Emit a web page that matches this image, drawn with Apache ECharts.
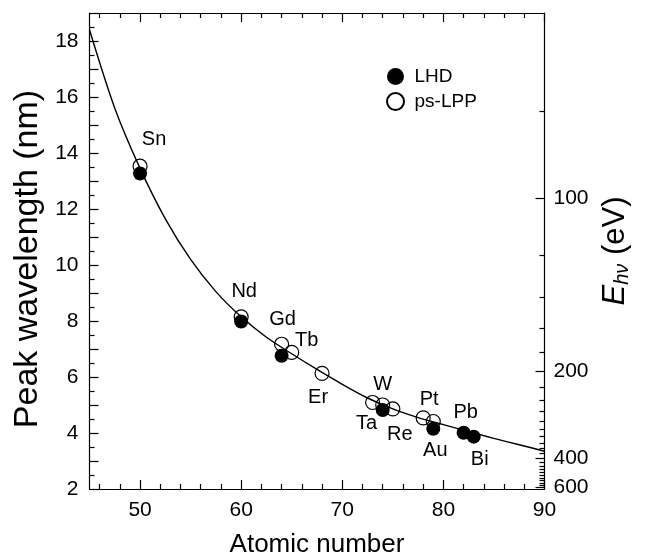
<!DOCTYPE html>
<html>
<head>
<meta charset="utf-8">
<script src="https://cdn.jsdelivr.net/npm/echarts@6/dist/echarts.min.js"></script>
<style>
  html, body { margin: 0; padding: 0; background: #fff; }
  #chart { width: 649px; height: 556px; }
</style>
</head>
<body>
<div id="chart"></div>
<script>
// Axis ticks
const atomicNumberMajorTicks = [50, 60, 70, 80, 90];
const atomicNumberMinorTicks = [46, 48, 52, 54, 56, 58, 62, 64, 66, 68, 72, 74, 76, 78, 82, 84, 86, 88];
const wavelengthLabels = [2, 4, 6, 8, 10, 12, 14, 16, 18];
const energyLabels = [100, 200, 400, 600];
const energyMinorTicks = [80, 120, 140, 160, 180, 220, 240, 260, 280, 300, 320, 340, 360, 380,
  420, 440, 460, 480, 500, 520, 540, 560, 580];

// Measured peak wavelengths (nm)
const lhdZ = [50, 60, 64, 74, 79, 82, 83];
const lhdWavelength = [13.27, 7.98, 6.76, 4.82, 4.15, 4.01, 3.87];
const lppZ = [50, 60, 64, 65, 68, 73, 74, 75, 78, 79];
const lppWavelength = [13.53, 8.15, 7.17, 6.88, 6.13, 5.09, 5.0, 4.86, 4.54, 4.41];

// Fitted trend curve
const fitZ = [45, 47.5, 50, 52.5, 55, 57.5, 60, 62.5, 65, 67.5, 70, 72.5, 75, 77.5, 80, 82.5, 85, 87.5, 90];
const fitWavelength = [18.4, 15.6, 13.45, 11.65, 10.2, 9.05, 8.15, 7.42, 6.83, 6.27, 5.74, 5.25, 4.86, 4.55, 4.3, 4.05, 3.81, 3.58, 3.35];

// Element labels and the measurement each one belongs to
const elementNames = ['Sn', 'Nd', 'Gd', 'Tb', 'Er', 'Ta', 'W', 'Re', 'Pt', 'Au', 'Pb', 'Bi'];
const elementZ = [50, 60, 64, 65, 68, 73, 74, 75, 78, 79, 82, 83];
const elementSource = ['lpp', 'lpp', 'lpp', 'lpp', 'lpp', 'lpp', 'lpp', 'lpp', 'lpp', 'lhd', 'lhd', 'lhd'];

// Label offsets in pixels from the data point
const labelOffsets = {
  Sn: [14, -27], Nd: [3, -25], Gd: [1, -25], Tb: [15, -12], Er: [-4, 24], Ta: [-6, 21],
  W: [0, -21], Re: [7, 26], Pt: [6, -18], Au: [2, 22], Pb: [2, -20], Bi: [6, 23]
};

const HC = 1239.84; // eV*nm
const FONT = '"Liberation Sans", Arial, sans-serif';
const TICK_FONT = 21;

function lookup(zs, ws, z) { return ws[zs.indexOf(z)]; }

const pairs = (xs, ys) => xs.map((x, i) => [x, ys[i]]);

const labelData = elementNames.map((name, i) => {
  const z = elementZ[i];
  const w = elementSource[i] === 'lpp' ? lookup(lppZ, lppWavelength, z) : lookup(lhdZ, lhdWavelength, z);
  return { name: name, value: [z, w], label: { offset: labelOffsets[name] } };
});

const black = '#000';
const lineW = 1.2;
const mainLine = { show: true, onZero: false, lineStyle: { color: black, width: lineW } };
const noLine = { show: false, onZero: false };
const tickStyle = { color: black, width: lineW };

function xAxisPair(position, withLabels) {
  const major = {
    type: 'value', position: position, min: 45, max: 90,
    axisLine: mainLine,
    axisTick: { show: true, inside: true, length: 9, customValues: atomicNumberMajorTicks, lineStyle: tickStyle },
    axisLabel: withLabels
      ? { show: true, customValues: atomicNumberMajorTicks, fontSize: TICK_FONT, color: black, fontFamily: FONT, margin: 11 }
      : { show: false },
    splitLine: { show: false }
  };
  if (withLabels) {
    major.name = 'Atomic number';
    major.nameLocation = 'middle';
    major.nameGap = 43;
    major.nameTextStyle = { fontSize: 26, color: black, fontFamily: FONT };
  }
  const minor = {
    type: 'value', position: position, min: 45, max: 90,
    axisLine: noLine,
    axisTick: { show: true, inside: true, length: 5, customValues: atomicNumberMinorTicks, lineStyle: tickStyle },
    axisLabel: { show: false },
    splitLine: { show: false }
  };
  return [major, minor];
}

const option = {
  animation: false,
  backgroundColor: '#fff',
  textStyle: { fontFamily: FONT },
  grid: { left: 89.5, right: 104.5, top: 13, bottom: 67, containLabel: false, outerBoundsMode: 'none' },
  legend: {
    orient: 'vertical',
    left: 381, top: 62,
    icon: 'circle',
    itemWidth: 28, itemHeight: 17, itemGap: 6,
    textStyle: { fontSize: 19, color: black, fontFamily: FONT },
    data: ['LHD', 'ps-LPP']
  },
  xAxis: [...xAxisPair('bottom', true), ...xAxisPair('top', false)],
  yAxis: [
    {
      type: 'value', position: 'left', min: 2, max: 19, interval: 1,
      name: 'Peak wavelength (nm)', nameLocation: 'middle', nameGap: 42, nameRotate: 90,
      nameTextStyle: { fontSize: 34, color: black, fontFamily: FONT, padding: [0, 16, 0, 0] },
      axisLine: mainLine,
      axisTick: { show: true, inside: true, length: 9, lineStyle: tickStyle },
      minorTick: { show: true, splitNumber: 2, length: 5, lineStyle: tickStyle },
      axisLabel: { show: true, customValues: wavelengthLabels, fontSize: TICK_FONT, color: black, fontFamily: FONT, margin: 11 },
      splitLine: { show: false }, minorSplitLine: { show: false }
    },
    {
      type: 'value', position: 'right', min: 2, max: 19,
      name: '{e|E}{s|hν}{u| (eV)}', nameLocation: 'middle', nameGap: 54, nameRotate: 90,
      nameTextStyle: {
        color: black, fontFamily: FONT,
        rich: {
          e: { fontSize: 31, fontStyle: 'italic', color: black, fontFamily: FONT },
          s: { fontSize: 20, fontStyle: 'italic', color: black, fontFamily: FONT, verticalAlign: 'bottom', padding: [14, 0, 0, 0] },
          u: { fontSize: 31, color: black, fontFamily: FONT }
        }
      },
      axisLine: mainLine,
      axisTick: { show: true, inside: true, length: 9, customValues: energyLabels.map(e => HC / e), lineStyle: tickStyle },
      axisLabel: {
        show: true, customValues: energyLabels.map(e => HC / e),
        formatter: v => String(Math.round(HC / v)),
        fontSize: TICK_FONT, color: black, fontFamily: FONT, margin: 9
      },
      splitLine: { show: false }
    },
    {
      type: 'value', position: 'right', min: 2, max: 19,
      axisLine: noLine,
      axisTick: { show: true, inside: true, length: 5, customValues: energyMinorTicks.map(e => HC / e), lineStyle: tickStyle },
      axisLabel: { show: false },
      splitLine: { show: false }
    }
  ],
  series: [
    {
      name: 'fit', type: 'line', xAxisIndex: 0, yAxisIndex: 0,
      data: pairs(fitZ, fitWavelength),
      smooth: 0.3, showSymbol: false, symbol: 'none', silent: true,
      lineStyle: { color: black, width: 1.4 }, z: 2
    },
    {
      name: 'ps-LPP', type: 'scatter', xAxisIndex: 0, yAxisIndex: 0,
      data: pairs(lppZ, lppWavelength),
      symbol: 'circle', symbolSize: 14,
      itemStyle: { color: 'rgba(255,255,255,0)', borderColor: black, borderWidth: 1.2, opacity: 1 }, z: 3
    },
    {
      name: 'LHD', type: 'scatter', xAxisIndex: 0, yAxisIndex: 0,
      data: pairs(lhdZ, lhdWavelength),
      symbol: 'circle', symbolSize: 14,
      itemStyle: { color: black, borderColor: black, borderWidth: 0, opacity: 1 }, z: 4
    },
    {
      name: 'elements', type: 'scatter', xAxisIndex: 0, yAxisIndex: 0,
      data: labelData, symbolSize: 0, silent: true,
      itemStyle: { color: 'transparent', opacity: 1 },
      label: { show: true, position: 'inside', formatter: '{b}', fontSize: 20, color: black, opacity: 1, fontFamily: FONT },
      z: 5
    }
  ]
};

const chart = echarts.init(document.getElementById('chart'), null, { renderer: 'canvas' });
chart.setOption(option);
</script>
</body>
</html>
